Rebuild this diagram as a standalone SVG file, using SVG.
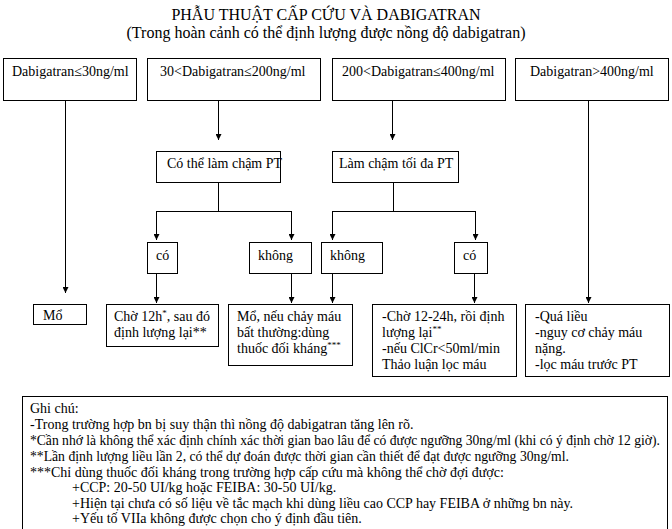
<svg xmlns="http://www.w3.org/2000/svg" width="672" height="529" viewBox="0 0 672 529">
<style>
text{font-family:"Liberation Serif","Times New Roman",serif;font-size:14px;fill:#000}
.t{font-size:16px}
.s1{font-size:13.6px}
.s2{font-size:13.7px}
.b{fill:#fff;stroke:#000;stroke-width:1}
.c{fill:none;stroke:#000;stroke-width:1}
</style>
<defs>
<marker id="ah" viewBox="0 0 8 8" refX="8" refY="4" markerWidth="7" markerHeight="6" markerUnits="userSpaceOnUse" orient="auto">
<path d="M0,0 L8,4 L0,8 z" fill="#000"/>
</marker>
</defs>
<rect width="672" height="529" fill="#fff"/>
<g id="title">
<text class="t" x="326" y="20" text-anchor="middle">PHẪU THUẬT CẤP CỨU VÀ DABIGATRAN</text>
<text class="t" x="326" y="38" text-anchor="middle">(Trong hoàn cảnh có thể định lượng được nồng độ dabigatran)</text>
</g>
<g id="connectors">
<path class="c" d="M65.5,100 V293" marker-end="url(#ah)"/>
<path class="c" d="M218.5,100 V140" marker-end="url(#ah)"/>
<path class="c" d="M392.5,100 V140" marker-end="url(#ah)"/>
<path class="c" d="M588.5,100 V303" marker-end="url(#ah)"/>
<path class="c" d="M218.5,182 V211.5 M156.5,211.5 H291.5"/>
<path class="c" d="M156.5,211 V240" marker-end="url(#ah)"/>
<path class="c" d="M291.5,211 V240" marker-end="url(#ah)"/>
<path class="c" d="M393.5,182 V211.5 M332.5,211.5 H475.5"/>
<path class="c" d="M332.5,211 V240" marker-end="url(#ah)"/>
<path class="c" d="M475.5,211 V240" marker-end="url(#ah)"/>
<path class="c" d="M156.5,273 V303" marker-end="url(#ah)"/>
<path class="c" d="M291.5,273 V303" marker-end="url(#ah)"/>
<path class="c" d="M332.5,273 V303" marker-end="url(#ah)"/>
<path class="c" d="M474.5,273 V303" marker-end="url(#ah)"/>
</g>
<g id="n1"><rect class="b" x="3.5" y="58.5" width="133" height="42"/><text x="12" y="76">Dabigatran≤30ng/ml</text></g>
<g id="n2"><rect class="b" x="147.5" y="58.5" width="173" height="42"/><text x="160" y="76">30&lt;Dabigatran≤200ng/ml</text></g>
<g id="n3"><rect class="b" x="332.5" y="58.5" width="173" height="42"/><text x="342" y="76">200&lt;Dabigatran≤400ng/ml</text></g>
<g id="n4"><rect class="b" x="515.5" y="58.5" width="153" height="42"/><text x="530" y="76">Dabigatran&gt;400ng/ml</text></g>
<g id="n5"><rect class="b" x="156.5" y="151.5" width="124" height="31"/><text x="167" y="168">Có thể làm chậm PT</text></g>
<g id="n6"><rect class="b" x="332.5" y="151.5" width="126" height="31"/><text x="339" y="168">Làm chậm tối đa PT</text></g>
<g id="n7"><rect class="b" x="147.5" y="242.5" width="30" height="31"/><text x="156" y="260">có</text></g>
<g id="n8"><rect class="b" x="249.5" y="242.5" width="62" height="31"/><text x="258" y="260">không</text></g>
<g id="n9"><rect class="b" x="321.5" y="242.5" width="61" height="31"/><text x="330" y="260">không</text></g>
<g id="n10"><rect class="b" x="454.5" y="242.5" width="33" height="31"/><text x="463" y="260">có</text></g>
<g id="n11"><rect class="b" x="33.5" y="304.5" width="53" height="20"/><text x="43" y="320">Mổ</text></g>
<g id="n12"><rect class="b" x="106.5" y="304.5" width="112" height="42"/><text x="114" y="321">Chờ 12h<tspan font-size="9" dy="-5">*</tspan><tspan dy="5">, sau đó</tspan></text><text x="114" y="337">định lượng lại**</text></g>
<g id="n13"><rect class="b" x="228.5" y="304.5" width="124" height="61"/><text x="237" y="321">Mổ, nếu chảy máu</text><text x="237" y="337">bất thường:dùng</text><text x="237" y="353">thuốc đối kháng<tspan font-size="9" dy="-5">***</tspan></text></g>
<g id="n14"><rect class="b" x="372.5" y="304.5" width="144" height="72"/><text x="382" y="321">-Chờ 12-24h, rồi định</text><text x="382" y="337">lượng lại<tspan font-size="9" dy="-5">**</tspan></text><text x="382" y="353">-nếu ClCr&lt;50ml/min</text><text x="382" y="369">Thảo luận lọc máu</text></g>
<g id="n15"><rect class="b" x="525.5" y="304.5" width="144" height="72"/><text x="535" y="321">-Quá liều</text><text x="535" y="337">-nguy cơ chảy máu</text><text x="535" y="353">nặng.</text><text x="535" y="369">-lọc máu trước PT</text></g>
<g id="notes"><rect class="b" x="22.5" y="396.5" width="645" height="140"/>
<text x="30" y="413">Ghi chú:</text>
<text x="30" y="429">-Trong trường hợp bn bị suy thận thì nồng độ dabigatran tăng lên rõ.</text>
<text class="s1" x="30" y="445">*Cần nhớ là không thể xác định chính xác thời gian bao lâu để có được ngưỡng 30ng/ml (khi có ý định chờ 12 giờ).</text>
<text class="s2" x="30" y="461">**Lần định lượng liều lần 2, có thể dự đoán được thời gian cần thiết để đạt được ngưỡng 30ng/ml.</text>
<text x="30" y="477">***Chỉ dùng thuốc đối kháng trong trường hợp cấp cứu mà không thể chờ đợi được:</text>
<text x="72" y="492">+CCP: 20-50 UI/kg hoặc FEIBA: 30-50 UI/kg.</text>
<text x="72" y="508">+Hiện tại chưa có số liệu về tắc mạch khi dùng liều cao CCP hay FEIBA ở những bn này.</text>
<text x="72" y="523">+Yếu tố VIIa không được chọn cho ý định đầu tiên.</text>
</g>
</svg>
